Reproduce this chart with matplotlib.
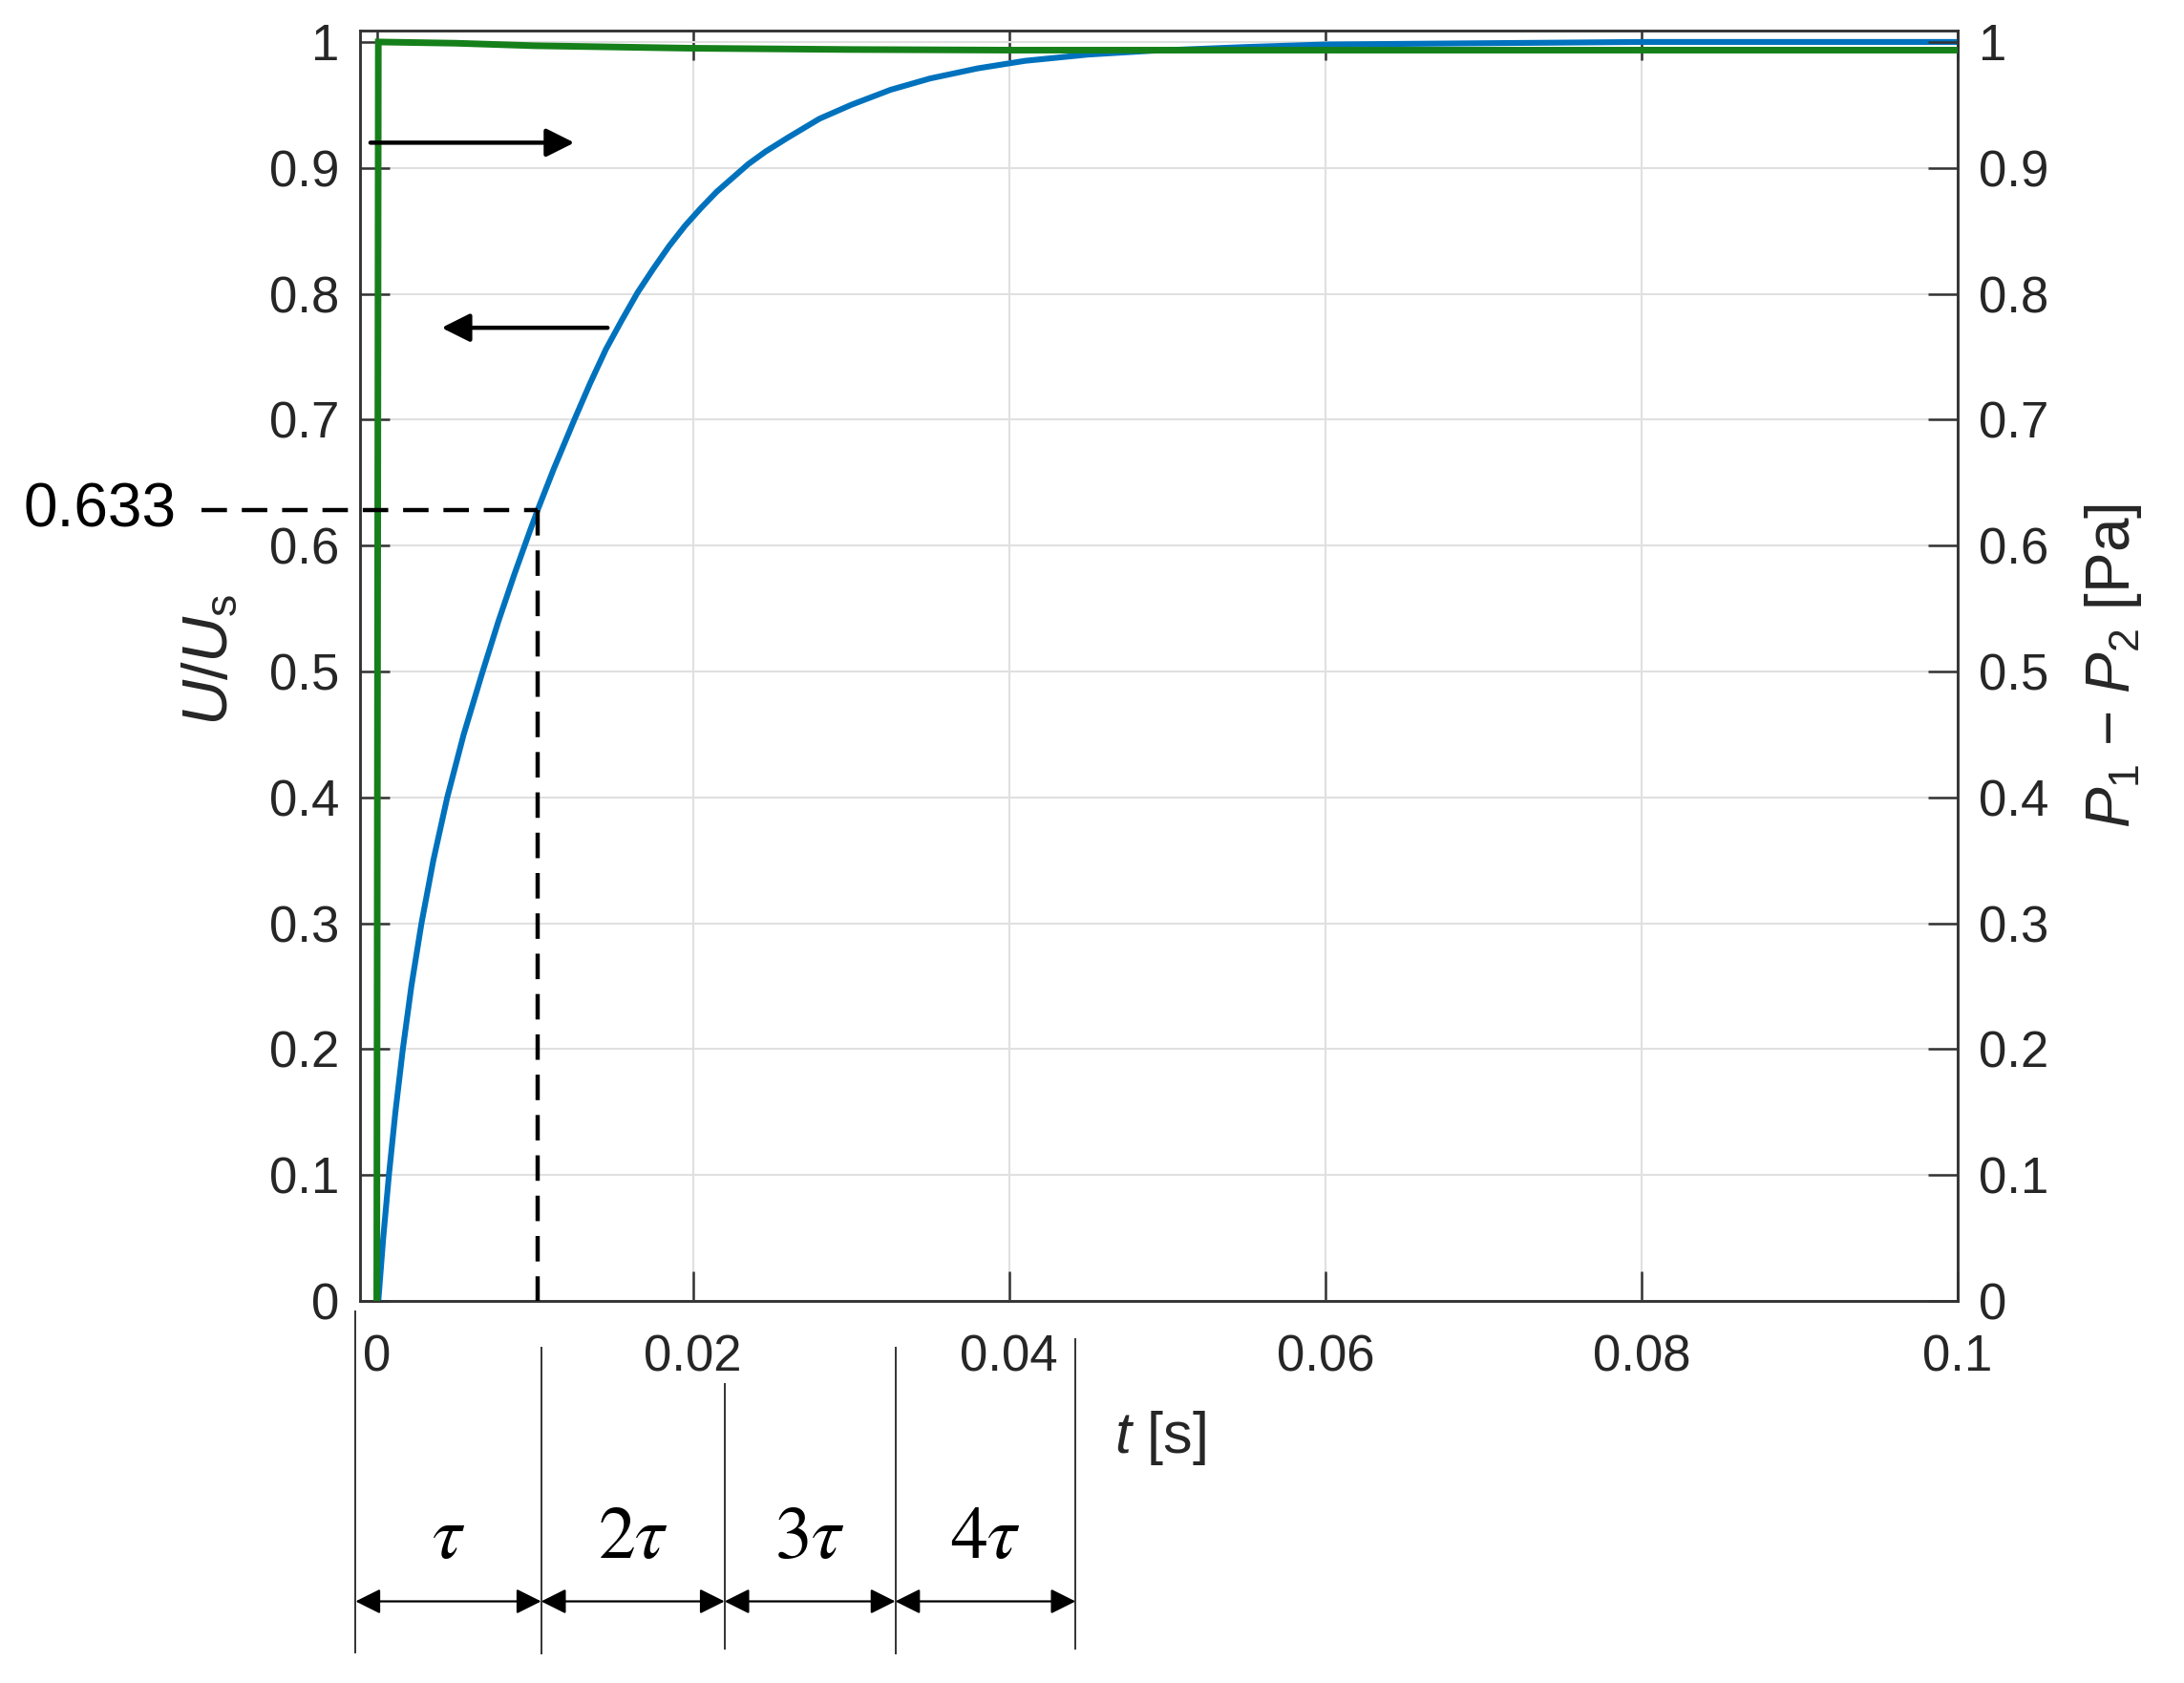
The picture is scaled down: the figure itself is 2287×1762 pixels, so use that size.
"""Step response: U/Us (left axis) and P1 - P2 (right axis) with time-constant markers."""

import matplotlib

matplotlib.use("Agg")  # headless: write PNG only

import matplotlib.pyplot as plt  # noqa: E402

# --- data ------------------------------------------------------------------
# blue: normalised velocity U/Us (left axis)
t_u = [0.0001, 0.00041, 0.00077, 0.00118, 0.00165, 0.00219, 0.00283, 0.00358,
       0.00446, 0.00550, 0.0067, 0.0077, 0.0087, 0.0097, 0.0102, 0.0112,
       0.0125, 0.0135, 0.0145, 0.0155, 0.0165, 0.0175, 0.0185, 0.0195,
       0.0205, 0.0215, 0.0225, 0.0235, 0.0246, 0.026, 0.028, 0.030, 0.0325,
       0.035, 0.038, 0.041, 0.045, 0.049, 0.055, 0.060, 0.070, 0.080, 0.090,
       0.100]
u_ratio = [0.000, 0.050, 0.100, 0.150, 0.200, 0.250, 0.300, 0.350,
           0.400, 0.450, 0.500, 0.540, 0.577, 0.612, 0.629, 0.661,
           0.700, 0.729, 0.756, 0.779, 0.801, 0.820, 0.838, 0.854,
           0.868, 0.881, 0.892, 0.903, 0.913, 0.924, 0.939, 0.950, 0.962,
           0.971, 0.979, 0.985, 0.990, 0.993, 0.996, 0.998, 0.999, 1.000, 1.000,
           1.000]

# green: pressure difference P1 - P2 (right axis)
t_p = [0.0, 0.0001, 0.005, 0.010, 0.020, 0.030, 0.040, 0.050, 0.070, 0.100]
dp = [0.0, 1.000, 0.999, 0.997, 0.995, 0.994, 0.9935, 0.9935, 0.9935, 0.9935]

x_ticks = [0, 0.02, 0.04, 0.06, 0.08, 0.1]
x_tick_labels = ["0", "0.02", "0.04", "0.06", "0.08", "0.1"]
y_ticks = [0, 0.1, 0.2, 0.3, 0.4, 0.5, 0.6, 0.7, 0.8, 0.9, 1]
y_tick_labels = ["0", "0.1", "0.2", "0.3", "0.4", "0.5", "0.6", "0.7", "0.8", "0.9", "1"]

# 63.3 % marker (line drawn where it sits in the picture)
tau_level = 0.628
tau_time = 0.0102
tau_label = "0.633"

# tau-interval dimension lines under the axis (x in seconds, y in axis units)
tau_marks = [-0.00134, 0.0104, 0.0220, 0.0328, 0.0442]
mark_tops = [-0.008, -0.037, -0.066, -0.037, -0.030]
mark_bottoms = [-0.279, -0.280, -0.276, -0.280, -0.276]
span_labels = [r"$\tau$", r"$2\tau$", r"$3\tau$", r"$4\tau$"]

# --- style -------------------------------------------------------------------
plt.rcParams["font.family"] = ["Liberation Sans", "DejaVu Sans"]
plt.rcParams["mathtext.fontset"] = "custom"
plt.rcParams["mathtext.rm"] = "Liberation Sans"
plt.rcParams["mathtext.it"] = "Liberation Sans:italic"
plt.rcParams["mathtext.bf"] = "Liberation Sans:bold"

AX_COLOR = "#333333"
TXT_COLOR = "#262626"
BLUE = "#0072BD"
GREEN = "#15801a"

fig = plt.figure(figsize=(22.87, 17.62), dpi=100)
ax = fig.add_axes([0.1649, 0.2270, 0.7315, 0.7548])
ax2 = ax.twinx()

xlim = (-0.00105, 0.1)
ylim = (0, 1.009)

ax.plot(t_u, u_ratio, color=BLUE, lw=4.4, solid_joinstyle="round", zorder=3)
ax2.plot(t_p, dp, color=GREEN, lw=5.0, solid_joinstyle="miter", zorder=3)

for a in (ax, ax2):
    a.set_xlim(*xlim)
    a.set_ylim(*ylim)
    for s in a.spines.values():
        s.set_color(AX_COLOR)
        s.set_linewidth(1.8)

ax.set_xticks(x_ticks, labels=x_tick_labels)
ax.set_yticks(y_ticks, labels=y_tick_labels)
ax2.set_yticks(y_ticks, labels=y_tick_labels)
ax.grid(True, color="#e0e0e0", lw=1.5)
ax.set_axisbelow(True)

ax.tick_params(axis="x", direction="in", length=22, width=1.8, color=AX_COLOR,
               top=True, bottom=True, labelsize=38, labelcolor=TXT_COLOR, pad=25)
ax.tick_params(axis="y", direction="in", length=22, width=1.8, color=AX_COLOR,
               left=True, right=False, labelsize=38, labelcolor=TXT_COLOR, pad=16)
ax2.tick_params(axis="y", direction="in", length=22, width=1.8, color=AX_COLOR,
                right=True, left=False, labelsize=38, labelcolor=TXT_COLOR, pad=16)

ax.set_xlabel(r"$t$ [s]", fontsize=44, color=TXT_COLOR)
ax.xaxis.set_label_coords(0.501, -0.085)
ax.set_ylabel(r"$U/U_\mathrm{s}$", fontsize=48, color=TXT_COLOR)
ax.yaxis.set_label_coords(-0.075, 0.505)
ax2.set_ylabel(r"$P_1$ − $P_2$ [Pa]", fontsize=46, color=TXT_COLOR)
ax2.yaxis.set_label_coords(1.0785, 0.5)

# --- annotations (drawn on the top axes) -----------------------------------
ax2.plot([-0.0111, tau_time], [tau_level, tau_level], color="black", lw=3.2,
         dashes=(6, 3.5), clip_on=False, zorder=5)
ax2.plot([tau_time, tau_time], [tau_level, 0], color="black", lw=3.2,
         dashes=(6, 3.5), clip_on=False, zorder=5)
ax2.text(-0.0127, tau_level, tau_label, ha="right", va="center", fontsize=46,
         color="black", clip_on=False)

arrow_kw = dict(arrowstyle="-|>", lw=3.2, color="black", mutation_scale=45,
                shrinkA=0, shrinkB=0)
ax2.annotate("", xy=(0.0125, 0.920), xytext=(-0.0004, 0.920), arrowprops=arrow_kw,
             annotation_clip=False, zorder=6)
ax2.annotate("", xy=(0.0041, 0.773), xytext=(0.0146, 0.773), arrowprops=arrow_kw,
             annotation_clip=False, zorder=6)

for x, top, bot in zip(tau_marks, mark_tops, mark_bottoms):
    ax2.plot([x, x], [top, bot], color="#333333", lw=1.4, clip_on=False)

span_y = -0.2386
label_y = -0.1886
dim_kw = dict(arrowstyle="<|-|>", lw=1.6, color="black", mutation_scale=40,
              shrinkA=0, shrinkB=0)
for i, lab in enumerate(span_labels):
    x0, x1 = tau_marks[i], tau_marks[i + 1]
    ax2.annotate("", xy=(x1, span_y), xytext=(x0, span_y), arrowprops=dim_kw,
                 annotation_clip=False)
    ax2.text((x0 + x1) / 2, label_y, lab, ha="center", va="center", fontsize=56,
             color="black", math_fontfamily="stix", clip_on=False)

fig.savefig("out.png", dpi=100)
plt.close(fig)
